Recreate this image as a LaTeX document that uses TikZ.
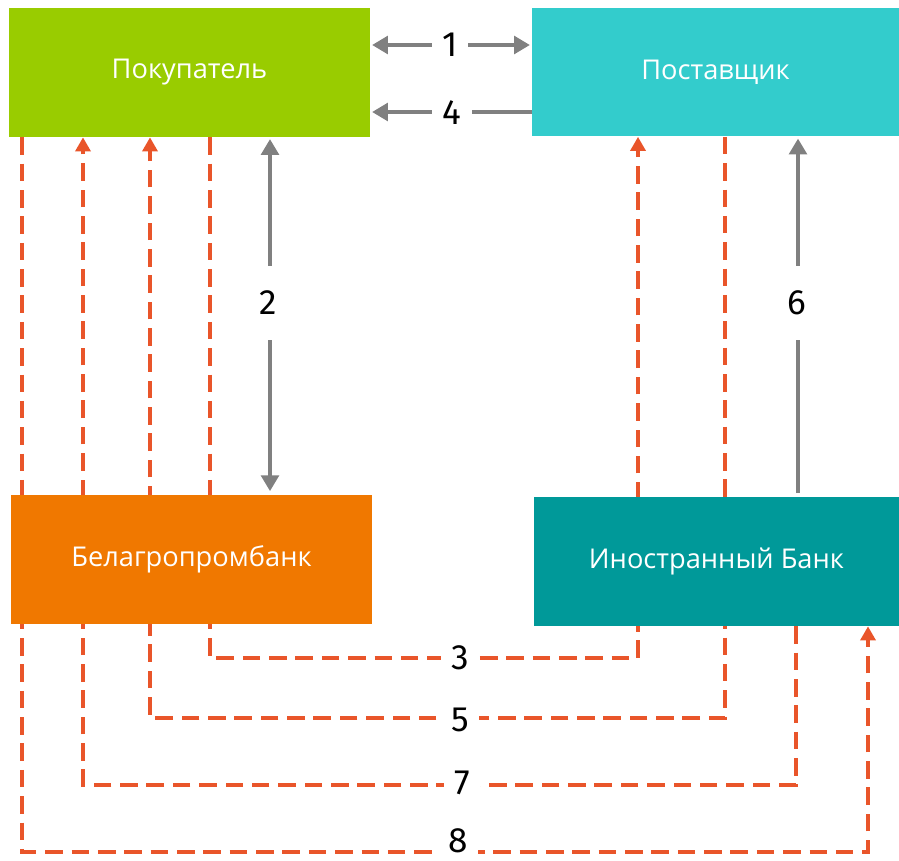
\documentclass[tikz,border=0pt]{standalone}
\usepackage{fontspec}
\setmainfont{Open Sans}
\newfontfamily\numfont{Fira Sans}
\usetikzlibrary{arrows.meta,backgrounds}
\definecolor{buyergreen}{HTML}{99CC00}
\definecolor{suppliercyan}{HTML}{33CCCC}
\definecolor{bankorange}{HTML}{F07800}
\definecolor{foreignteal}{HTML}{009999}
\definecolor{flowred}{HTML}{E9552A}
\definecolor{arrowgrey}{HTML}{808080}
\tikzset{
  party/.style={rectangle,inner sep=0pt,minimum height=2.58cm,text=white,font=\fontsize{15.5}{18}\selectfont},
  greyarrow/.style={draw=arrowgrey,line width=2.2pt,-{Triangle[length=9pt,width=10pt]}},
  greytwoway/.style={draw=arrowgrey,line width=2.2pt,{Triangle[length=9pt,width=10pt]}-{Triangle[length=9pt,width=10pt]}},
  flow/.style={draw=flowred,line width=2.1pt,dash pattern=on 10pt off 5pt,-{Triangle[length=8pt,width=8.5pt]}},
  num/.style={fill=white,inner xsep=6pt,inner ysep=8pt,font=\numfont\fontsize{20}{24}\selectfont}
}
\begin{document}
\begin{tikzpicture}[x=0.02cm,y=-0.02cm]
\useasboundingbox (0,0) rectangle (899,861);
% parties
\node[party,fill=buyergreen,minimum width=7.22cm] (buyer) at (189.5,72.5) {Покупатель};
\node[party,fill=suppliercyan,minimum width=7.34cm] (supplier) at (715.5,72) {Поставщик};
\node[party,fill=bankorange,minimum width=7.22cm] (belbank) at (191.5,559.5) {Белагропромбанк};
\node[party,fill=foreignteal,minimum width=7.3cm] (forbank) at (716.5,561.5) {Иностранный Банк};
% grey arrows
\draw[greytwoway,shorten <=1pt,shorten >=1pt] (buyer.east |- 0,45) -- (supplier.west |- 0,45);
\draw[greyarrow,shorten >=1pt] (supplier.west |- 0,112) -- (buyer.east |- 0,112);
\draw[greytwoway,shorten <=1pt,shorten >=2pt] (buyer.south -| 270,0) -- (belbank.north -| 270,0);
\draw[greyarrow,shorten >=1pt,shorten <=2pt] (forbank.north -| 798,0) -- (supplier.south -| 798,0);
% dashed flows, behind the boxes
\begin{pgfonlayer}{background}
  \draw[flow] (buyer.south -| 210,0) -- (210,658) -- (638,658) -- (supplier.south -| 638,0);
  \draw[flow] (supplier.south -| 725,0) -- (725,718) -- (150,718) -- (buyer.south -| 150,0);
  \draw[flow] (forbank.south -| 796,0) -- (796,785) -- (83,785) -- (buyer.south -| 83,0);
  \draw[flow] (buyer.south -| 22,0) -- (22,852) -- (868,852) -- (forbank.south -| 868,0);
\end{pgfonlayer}
% numbers
\node[num] (n1) at (450,45) {1};
\node[num] (n4) at (452,113) {4};
\node[num,inner ysep=14pt] (n2) at (268,303) {2};
\node[num,inner ysep=14pt] (n6) at (797,303) {6};
\node[num] (n3) at (460,658) {3};
\node[num] (n5) at (460,720) {5};
\node[num] (n7) at (462,783) {7};
\node[num,inner ysep=3pt] (n8) at (458,841) {8};
\end{tikzpicture}
\end{document}
